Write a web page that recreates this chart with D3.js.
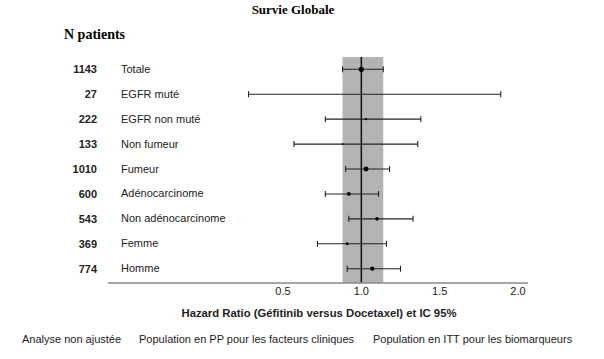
<!DOCTYPE html>
<html>
<head>
  <meta charset="utf-8">
  <title>Survie Globale</title>
  <script src="https://d3js.org/d3.v7.min.js"></script>
  <style>
    body { margin: 0; background: #fff; }
    .serif { font-family: "Liberation Serif", "DejaVu Serif", serif; font-weight: bold; }
    .sans { font-family: "Liberation Sans", Arial, sans-serif; font-size: 11px; fill: #222; }
    .ci { stroke: #222; stroke-width: 1.1px; }
  </style>
</head>
<body>
  <svg width="604" height="359"></svg>

  <script>
    const width = 604;
    const height = 359;

    // Data
    const groups = ["Totale", "EGFR muté", "EGFR non muté", "Non fumeur", "Fumeur",
                    "Adénocarcinome", "Non adénocarcinome", "Femme", "Homme"];
    const nPatients = [1143, 27, 222, 133, 1010, 600, 543, 369, 774];
    const hr    = [1.00, 1.00, 1.03, 0.88, 1.03, 0.92, 1.10, 0.91, 1.07];
    const lower = [0.88, 0.28, 0.77, 0.57, 0.90, 0.77, 0.92, 0.72, 0.91];
    const upper = [1.14, 1.89, 1.38, 1.36, 1.18, 1.11, 1.33, 1.16, 1.25];
    const ticks = [0.5, 1.0, 1.5, 2.0];

    const rows = groups.map((g, i) => ({
      name: g, n: nPatients[i], hr: hr[i], lo: lower[i], hi: upper[i]
    }));

    const svg = d3.select("svg")
      .attr("width", width)
      .attr("height", height);

    const x = d3.scaleLinear().domain([0.5, 2.0]).range([283, 518]);
    const y = d3.scalePoint().domain(groups).range([69.3, 268.7]);
    const r = d3.scaleSqrt().domain([0, 1143]).range([0, 2.6]);

    const plotTop = 57, plotBase = 283;

    // grey band = CI of the whole population
    svg.append("rect")
      .attr("x", x(rows[0].lo))
      .attr("y", plotTop)
      .attr("width", x(rows[0].hi) - x(rows[0].lo))
      .attr("height", plotBase - plotTop)
      .attr("fill", "#b3b3b3");

    // reference line at HR = 1
    svg.append("line")
      .attr("x1", x(1)).attr("x2", x(1))
      .attr("y1", plotTop).attr("y2", plotBase)
      .attr("stroke", "#111")
      .attr("stroke-width", 1.5);

    // baseline
    svg.append("line")
      .attr("x1", 108).attr("x2", 528)
      .attr("y1", plotBase).attr("y2", plotBase)
      .attr("stroke", "#888")
      .attr("stroke-width", 1.5);

    // tick labels
    svg.selectAll(".tick")
      .data(ticks)
      .enter().append("text")
      .attr("class", "sans")
      .attr("x", d => x(d))
      .attr("y", 295)
      .attr("text-anchor", "middle")
      .attr("fill", "#333")
      .text(d => d.toFixed(1));

    // confidence intervals
    const g = svg.selectAll(".row")
      .data(rows)
      .enter().append("g");

    g.append("line")
      .attr("class", "ci")
      .attr("x1", d => x(d.lo)).attr("x2", d => x(d.hi))
      .attr("y1", d => y(d.name)).attr("y2", d => y(d.name));

    g.append("line")
      .attr("class", "ci")
      .attr("x1", d => x(d.lo)).attr("x2", d => x(d.lo))
      .attr("y1", d => y(d.name) - 3).attr("y2", d => y(d.name) + 3);

    g.append("line")
      .attr("class", "ci")
      .attr("x1", d => x(d.hi)).attr("x2", d => x(d.hi))
      .attr("y1", d => y(d.name) - 3).attr("y2", d => y(d.name) + 3);

    g.append("circle")
      .attr("cx", d => x(d.hr))
      .attr("cy", d => y(d.name))
      .attr("r", d => r(d.n))
      .attr("fill", "#000");

    // N patients column
    g.append("text")
      .attr("class", "sans")
      .attr("x", 97)
      .attr("y", d => y(d.name) + 4)
      .attr("text-anchor", "end")
      .attr("font-weight", "bold")
      .text(d => d.n);

    g.append("text")
      .attr("class", "sans")
      .attr("x", 121)
      .attr("y", d => y(d.name) + 3.5)
      .text(d => d.name);

    // titles
    svg.append("text")
      .attr("class", "serif")
      .attr("x", 293)
      .attr("y", 14)
      .attr("text-anchor", "middle")
      .attr("font-size", "13px")
      .text("Survie Globale");

    svg.append("text")
      .attr("class", "serif")
      .attr("x", 64)
      .attr("y", 39)
      .attr("font-size", "14px")
      .text("N patients");

    svg.append("text")
      .attr("class", "sans")
      .attr("x", 319)
      .attr("y", 317)
      .attr("text-anchor", "middle")
      .attr("font-weight", "bold")
      .style("font-size", "11.3px")
      .text("Hazard Ratio (Géfitinib versus Docetaxel) et IC 95%");

    // footer notes
    const notes = ["Analyse non ajustée", "Population en PP pour les facteurs cliniques",
                   "Population en ITT pour les biomarqueurs"];
    const noteX = [22, 139, 373];
    svg.selectAll(".note")
      .data(notes)
      .enter().append("text")
      .attr("class", "sans")
      .attr("x", (d, i) => noteX[i])
      .attr("y", 343)
      .text(d => d);
  </script>
</body>
</html>
